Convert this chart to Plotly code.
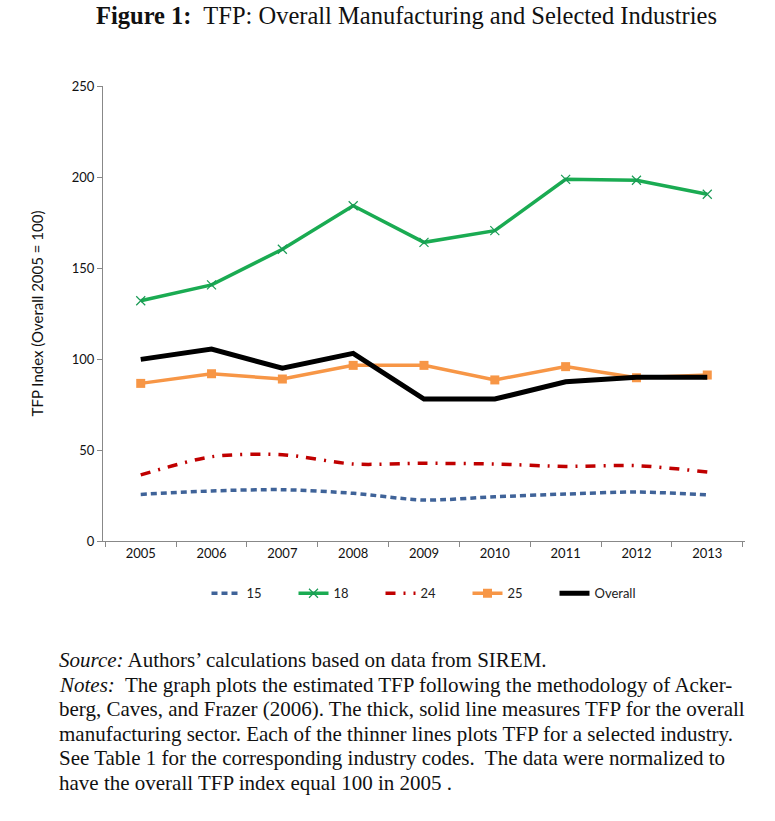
import plotly.graph_objects as go

years = ["2005", "2006", "2007", "2008", "2009", "2010", "2011", "2012", "2013"]
ind15 = [25.6, 27.5, 28.2, 26.2, 22.5, 24.3, 25.8, 26.9, 25.4]
ind18 = [132.0, 140.7, 160.3, 184.2, 164.1, 170.5, 198.7, 198.2, 190.5]
ind24 = [36.3, 46.3, 47.4, 42.3, 42.7, 42.3, 41.0, 41.4, 37.9]
ind25 = [86.6, 91.9, 89.0, 96.5, 96.5, 88.5, 95.8, 89.7, 91.2]
overall = [99.8, 105.5, 94.9, 103.1, 78.0, 78.0, 87.5, 90.0, 90.0]

y_ticks = [0, 50, 100, 150, 200, 250]

note_lines = [
    "<i>Source:</i> Authors’ calculations based on data from SIREM.",
    "<i>Notes:</i>  The graph plots the estimated TFP following the methodology of Acker-",
    "berg, Caves, and Frazer (2006). The thick, solid line measures TFP for the overall",
    "manufacturing sector. Each of the thinner lines plots TFP for a selected industry.",
    "See Table 1 for the corresponding industry codes.  The data were normalized to",
    "have the overall TFP index equal 100 in 2005 .",
]

fig = go.Figure()
fig.add_trace(go.Scatter(x=years, y=ind15, name="15", mode="lines",
                         line=dict(color="#3F6399", width=3.5, dash="6px,4px", shape="spline", smoothing=0.8)))
fig.add_trace(go.Scatter(x=years, y=ind18, name="18", mode="lines+markers",
                         line=dict(color="#1AAB52", width=3.5),
                         marker=dict(symbol="x-thin", size=9, line=dict(color="#1A9A55", width=1.2))))
fig.add_trace(go.Scatter(x=years, y=ind24, name="24", mode="lines",
                         line=dict(color="#C00000", width=3.5, dash="10px,8px,2px,8px", shape="spline", smoothing=0.8)))
fig.add_trace(go.Scatter(x=years, y=ind25, name="25", mode="lines+markers",
                         line=dict(color="#F79646", width=3.5),
                         marker=dict(symbol="square", size=9, color="#F79646")))
fig.add_trace(go.Scatter(x=years, y=overall, name="Overall", mode="lines",
                         line=dict(color="#000000", width=5)))

fig.update_layout(
    width=775, height=821,
    paper_bgcolor="white", plot_bgcolor="white",
    margin=dict(l=103, r=30, t=86, b=280),
    showlegend=True,
    legend=dict(orientation="h", x=0.5, xanchor="center", y=-0.115, yanchor="middle",
                font=dict(family="Lato", size=13, color="#222"),
                entrywidth=42, entrywidthmode="pixels", itemwidth=30),
    xaxis=dict(type="category", showgrid=False, showline=True, linecolor="#888", linewidth=1,
               ticks="outside", ticklen=5, tickcolor="#888", tickson="boundaries",
               tickfont=dict(family="Lato", size=13, color="#111")),
    yaxis=dict(range=[0, 250], tickvals=y_ticks, showgrid=False, zeroline=False, showline=True,
               linecolor="#888", linewidth=1, ticks="outside", ticklen=5, tickcolor="#888",
               tickfont=dict(family="Lato", size=13, color="#111"),
               title=dict(text="TFP Index (Overall 2005 = 100)", standoff=24,
                          font=dict(family="Lato", size=15, color="#111"))),
)

fig.add_annotation(text="<b>Figure 1:</b>  TFP: Overall Manufacturing and Selected Industries",
                   xref="paper", yref="paper", x=0.5, xshift=-18, y=1, yshift=71, showarrow=False,
                   xanchor="center", yanchor="middle",
                   font=dict(family="Liberation Serif", size=24.5, color="#111"))

for i, line in enumerate(note_lines):
    fig.add_annotation(text=line, xref="paper", yref="paper", x=0, xshift=-103 + 57,
                       y=0, yshift=-(660 - 541) - i * 24.5, showarrow=False,
                       xanchor="left", yanchor="middle",
                       font=dict(family="Liberation Serif", size=21, color="#111"))

fig.write_html("out.html", config={"displayModeBar": False},
               post_script="document.body.style.margin='0px';document.body.style.overflow='hidden';")
